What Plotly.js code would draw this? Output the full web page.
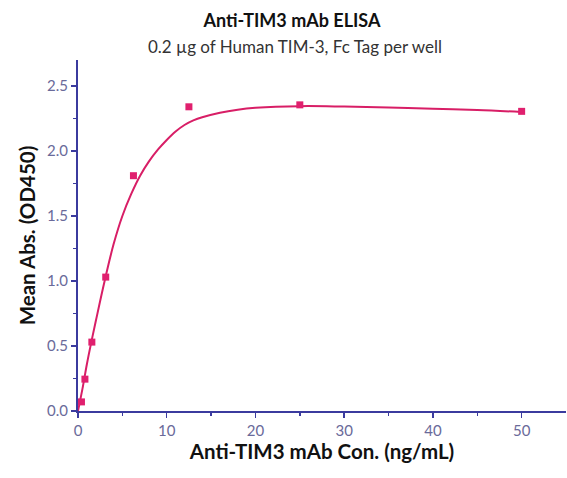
<!DOCTYPE html>
<html>
<head>
<meta charset="utf-8">
<script src="https://cdn.plot.ly/plotly-3.0.1.min.js"></script>
<style>html,body{margin:0;padding:0;background:#fff;}#chart{width:567px;height:478px;}</style>
</head>
<body>
<div id="chart"></div>
<script>
// Measured points (concentration ng/mL, mean OD450)
const concentration = [0.39, 0.78, 1.5625, 3.125, 6.25, 12.5, 25, 50];
const meanAbs = [0.07, 0.245, 0.53, 1.03, 1.81, 2.34, 2.355, 2.305];

// Fitted curve
const curveX = [0, 0.5, 1, 1.5, 2, 3, 4, 5, 6, 7, 8, 9, 10, 11, 12, 13, 14, 16, 18, 20, 25, 30, 35, 40, 45, 50];
const curveY = [0.0, 0.17, 0.36, 0.53, 0.69, 1.0, 1.28, 1.50, 1.67, 1.81, 1.92, 2.01, 2.085, 2.15, 2.20, 2.235, 2.26, 2.295, 2.318, 2.332, 2.345, 2.342, 2.335, 2.325, 2.315, 2.30];

const titleText = "Anti-TIM3 mAb ELISA";
const subtitleText = "0.2 µg of Human TIM-3, Fc Tag per well";
const xTitle = "Anti-TIM3 mAb Con. (ng/mL)";
const yTitle = "Mean Abs. (OD450)";

const pink = "#e0206e";
const axisCol = "#3b3b9e";
const tickCol = "#6a6a9a";
const fontFam = "Lato, 'Open Sans', sans-serif";

const traces = [
  {x: curveX, y: curveY, mode: "lines", line: {color: "#d81e66", width: 2, shape: "spline", smoothing: 1}, hoverinfo: "skip", showlegend: false},
  {x: concentration, y: meanAbs, mode: "markers", marker: {symbol: "square", size: 7, color: pink}, showlegend: false}
];

const layout = {
  width: 567, height: 478,
  margin: {l: 78, r: 1, t: 60, b: 67},
  paper_bgcolor: "#fff", plot_bgcolor: "#fff",
  font: {family: fontFam, color: "#222"},
  title: {text: "<b>" + titleText + "</b>", font: {size: 18, color: "#111", family: fontFam}, xref: "container", x: 0.515, xanchor: "center", yref: "container", y: 0.957, yanchor: "middle"},
  annotations: [
    {text: subtitleText, xref: "paper", yref: "paper", x: 0.445, y: 1.0 + (60 - 46) / 351, xanchor: "center", yanchor: "middle", showarrow: false, font: {size: 17, color: "#333", family: fontFam}}
  ],
  xaxis: {
    range: [0, 55], tickvals: [0, 10, 20, 30, 40, 50], ticks: "outside", ticklen: 5, tickwidth: 1.5, tickcolor: axisCol,
    minor: {tickvals: [5, 15, 25, 35, 45], ticks: "outside", ticklen: 3, tickcolor: axisCol, showgrid: false},
    showline: true, linecolor: axisCol, linewidth: 2, showgrid: false, zeroline: false,
    tickfont: {size: 15, color: tickCol, family: fontFam},
    title: {text: "<b>" + xTitle + "</b>", font: {size: 20.5, color: "#111", family: fontFam}, standoff: 6}
  },
  yaxis: {
    range: [0, 2.7], tickvals: [0, 0.5, 1, 1.5, 2, 2.5], ticktext: ["0.0", "0.5", "1.0", "1.5", "2.0", "2.5"],
    ticks: "outside", ticklen: 5, tickwidth: 1.5, tickcolor: axisCol,
    minor: {tickvals: [0.25, 0.75, 1.25, 1.75, 2.25], ticks: "outside", ticklen: 3, tickcolor: axisCol, showgrid: false},
    showline: true, linecolor: axisCol, linewidth: 2, showgrid: false, zeroline: false,
    tickfont: {size: 15, color: tickCol, family: fontFam},
    title: {text: "<b>" + yTitle + "</b>", font: {size: 20.5, color: "#111", family: fontFam}, standoff: 6}
  }
};

Plotly.newPlot("chart", traces, layout, {displayModeBar: false, staticPlot: true});
</script>
</body>
</html>
